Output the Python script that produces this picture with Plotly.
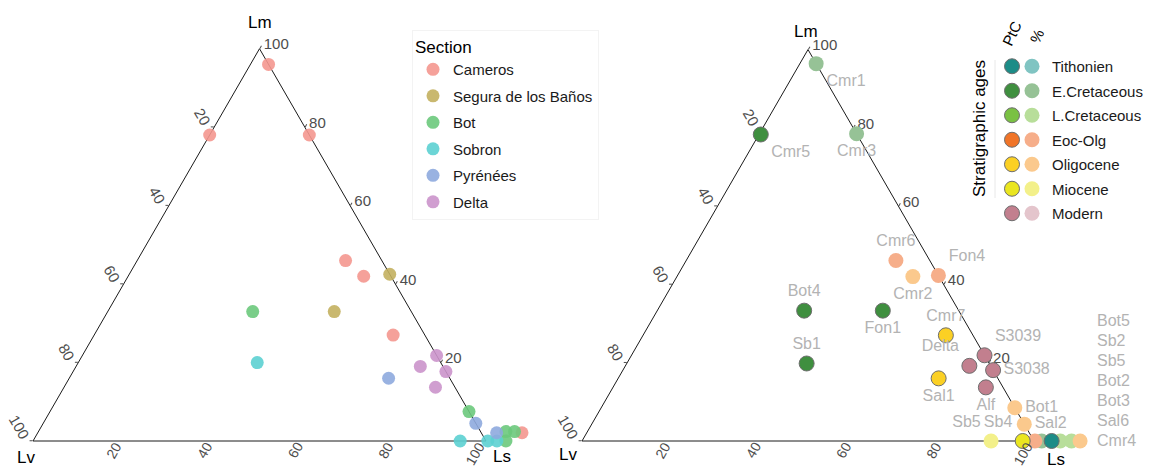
import math
import plotly.graph_objects as go

FONT = "Liberation Sans, Arial, sans-serif"
FIG_W, FIG_H = 1151, 468

# ---------------- Left panel: samples by section (Lm, Lv, Ls in %) ----------------
sections = ["Cameros", "Segura de los Baños", "Bot", "Sobron", "Pyrénées", "Delta"]
section_colors = ["#F4978F", "#C3B05F", "#6CC97C", "#5CD0D2", "#8EAADE", "#CB94CB"]

left_section = ["Cameros", "Cameros", "Cameros", "Cameros", "Cameros", "Cameros", "Cameros",
                "Segura de los Baños", "Segura de los Baños",
                "Bot", "Bot", "Bot", "Bot", "Bot",
                "Sobron", "Sobron", "Sobron", "Sobron",
                "Pyrénées", "Pyrénées", "Pyrénées",
                "Delta", "Delta", "Delta", "Delta"]
left_lm = [96, 78, 78, 46, 42, 27, 2.1,
           42.5, 33,
           33, 7.5, 2.4, 2.4, 0,
           20, 0, 0, 0,
           16, 4.5, 2.1,
           21.8, 19, 17.7, 13.7]
left_lv = [0, 22, 0, 8, 6, 7, -9,
           0, 17,
           35, 0, -5.6, -7.5, -4.4,
           40.5, 5.7, -0.4, -2.4,
           13.5, 0, -3.4,
           0, 5, 0, 4.3]
left_ls = [4, 0, 22, 46, 52, 66, 106.9,
           57.5, 50,
           32, 92.5, 103.2, 105.1, 104.4,
           39.5, 94.3, 100.4, 102.4,
           70.5, 95.5, 101.3,
           78.2, 76, 82.3, 82]

# ---------------- Right panel: samples by stratigraphic age ----------------
ages = ["Tithonien", "E.Cretaceous", "L.Cretaceous", "Eoc-Olg", "Oligocene", "Miocene", "Modern"]
ptc_colors = ["#1C8C87", "#3F8F3F", "#7AC143", "#F07428", "#FBD024", "#EAE620", "#C27F8E"]
pct_colors = ["#80C4C2", "#96C296", "#B8DE9A", "#F6AE8A", "#FBC98D", "#F3F08A", "#E4C5CC"]

right_sample = ["Cmr1", "Cmr3", "Cmr6", "Fon4", "Cmr2", "Bot1", "Sal2", "Sb5",
                "Cmr4", "Bot5", "Bot2", "Bot3", "Sal6",
                "Cmr5", "Bot4", "Fon1", "Sb1", "Cmr7", "Sal1", "Sb4",
                "S3039", "Delta", "S3038", "Alf", "Sb2"]
right_age = ["E.Cretaceous", "E.Cretaceous", "Eoc-Olg", "Eoc-Olg", "Oligocene", "Oligocene", "Oligocene", "Miocene",
             "Eoc-Olg", "E.Cretaceous", "L.Cretaceous", "L.Cretaceous", "Oligocene",
             "E.Cretaceous", "E.Cretaceous", "E.Cretaceous", "E.Cretaceous", "Oligocene", "Oligocene", "Miocene",
             "Modern", "Modern", "Modern", "Modern", "Tithonien"]
right_kind = ["%", "%", "%", "%", "%", "%", "%", "%",
              "%", "%", "%", "%", "%",
              "PtC", "PtC", "PtC", "PtC", "PtC", "PtC", "PtC",
              "PtC", "PtC", "PtC", "PtC", "PtC"]
right_lm = [96.4, 78.5, 46.1, 42.3, 42.0, 8.5, 4.3, 0,
            0, 0, 0, 0, 0,
            78.3, 33.3, 33.3, 19.8, 27, 16, 0,
            21.9, 19.2, 18.1, 13.7, 0]
right_lv = [0, 0, 7.5, 0, 5.8, 0, 0, 9.5,
            -0.2, -1.7, -5.8, -8.3, -10.2,
            21.3, 34.2, 16.8, 40.4, 6, 13.1, 2.5,
            0, 4.7, 0, 3.8, -3.9]
right_ls = [3.6, 21.5, 46.4, 57.7, 52.2, 91.5, 95.7, 90.5,
            100.2, 101.7, 105.8, 108.3, 110.2,
            0.4, 32.5, 49.9, 39.8, 67, 70.9, 97.5,
            78.1, 76.1, 81.9, 82.5, 103.9]
# labels of the points beyond the Ls vertex, stacked in a column
stacked_labels = ["Bot5", "Sb2", "Sb5", "Bot2", "Bot3", "Sal6", "Cmr4"]

# tick values shown on each edge
edge_ticks = [20, 40, 60, 80, 100]

# label placement relative to each marker (style)
label_pos = {"Cmr1": "bottom right", "Cmr3": "bottom center", "Cmr6": "top center", "Fon4": "top right",
             "Cmr2": "bottom center", "Bot1": "middle right", "Sal2": "middle right", "Sb5": "top left",
             "Cmr5": "bottom right", "Bot4": "top center", "Fon1": "bottom center", "Sb1": "top center",
             "Cmr7": "top center", "Sal1": "bottom center", "Sb4": "top left", "S3039": "top right",
             "Delta": "top left", "S3038": "middle right", "Alf": "bottom center"}

# ---------------- geometry ----------------
SQ = math.sqrt(3) / 2
BASE_Y = 441
PANELS = {"left": (33, 486), "right": (582, 1034)}
LV_PAD = 11  # extra room for compositions with slightly negative Lv (points beyond the Ls vertex)


def axis_domain(xl, xr):
    s = xr - xl
    h = s * SQ
    return dict(x=[xl / FIG_W, xr / FIG_W], y=[(FIG_H - BASE_Y) / FIG_H, (FIG_H - BASE_Y + h) / FIG_H])


def data_domain(xl, xr):
    # larger triangle sharing the Lv vertex; its inner 0-100 triangle coincides with the framed triangle
    f = (100 + LV_PAD) / 100
    s = (xr - xl) * f
    h = s * SQ
    return dict(x=[xl / FIG_W, (xl + s) / FIG_W], y=[(FIG_H - BASE_Y) / FIG_H, (FIG_H - BASE_Y + h) / FIG_H])


fig = go.Figure()

# placeholder traces so the framed (axis) ternaries exist
for sp in ["ternary", "ternary2"]:
    fig.add_trace(go.Scatterternary(a=[None], b=[None], c=[None], mode="markers", subplot=sp,
                                    showlegend=False, hoverinfo="skip"))

# left panel data
for sec, col in zip(sections, section_colors):
    idx = [i for i, s in enumerate(left_section) if s == sec]
    fig.add_trace(go.Scatterternary(
        a=[left_lm[i] for i in idx], b=[left_lv[i] + LV_PAD for i in idx], c=[left_ls[i] for i in idx],
        mode="markers", name=sec, subplot="ternary3", legend="legend", legendgroup=sec,
        cliponaxis=False,
        marker=dict(size=13, color=col, opacity=0.9, line=dict(width=0)),
        customdata=[left_lv[i] for i in idx],
        hovertemplate="Lm %{a}<br>Lv %{customdata}<br>Ls %{c}<extra>" + sec + "</extra>",
    ))

# right panel data: % first (underneath), then PtC
for kind, colors, leg in [("%", pct_colors, "legend2"), ("PtC", ptc_colors, "legend3")]:
    for age, col in zip(ages, colors):
        idx = [i for i in range(len(right_sample)) if right_age[i] == age and right_kind[i] == kind]
        a = [right_lm[i] for i in idx] or [None]
        b = [right_lv[i] + LV_PAD for i in idx] or [None]
        c = [right_ls[i] for i in idx] or [None]
        txt = [right_sample[i] if right_sample[i] in label_pos else "" for i in idx] or [""]
        pos = [label_pos.get(right_sample[i], "middle center") for i in idx] or ["middle center"]
        line = dict(width=1, color="#6E6E6E") if kind == "PtC" else dict(width=0)
        fig.add_trace(go.Scatterternary(
            a=a, b=b, c=c, text=txt, textposition=pos,
            mode="markers+text", name=age if kind == "%" else " ", subplot="ternary4", legend=leg,
            legendgroup=kind + age, cliponaxis=False,
            textfont=dict(family=FONT, size=16, color="#B3B3B3"),
            marker=dict(size=15, color=col, line=line),
            hovertext=[f"{right_sample[i]} ({age}, {kind})" for i in idx] or [""],
            hoverinfo="text",
        ))


def frame_axes(domain):
    common = dict(showgrid=False, linecolor="#1a1a1a", linewidth=1, ticks="outside", ticklen=3,
                  tickcolor="#4d4d4d", tickfont=dict(family=FONT, size=15, color="#4d4d4d"),
                  tickmode="array", tickvals=[100 - t for t in edge_ticks],
                  ticktext=[str(t) for t in edge_ticks], title=dict(text=""), min=0)
    # bottom-edge (Ls) labels are drawn as annotations below so they sit close to the edge
    bax = dict(common, ticks="", showticklabels=False)
    return dict(sum=100, bgcolor="white", domain=domain,
                aaxis=dict(common, tickangle=60),
                baxis=bax,
                caxis=dict(common, tickangle=0))


def hidden_axes(domain):
    common = dict(showgrid=False, showline=False, showticklabels=False, ticks="", title=dict(text=""), min=0)
    return dict(sum=100 + LV_PAD, bgcolor="rgba(0,0,0,0)", domain=domain,
                aaxis=dict(common), baxis=dict(common), caxis=dict(common))


def px(x, y):
    return x / FIG_W, 1 - y / FIG_H


annotations = []
# bottom edge tick labels (Ls %)
for xl, xr in PANELS.values():
    for t in edge_ticks:
        xx, yy = px(xl + (xr - xl) * t / 100 + 3, BASE_Y - 3)
        annotations.append(dict(text=str(t), x=xx, y=yy, xref="paper", yref="paper", showarrow=False,
                                xanchor="right", yanchor="top", textangle=-60, borderpad=0,
                                font=dict(family=FONT, size=14, color="#4d4d4d")))
for txt, (x, y) in [("Lm", (260, 22)), ("Lv", (26, 457)), ("Ls", (502, 456)),
                    ("Lm", (806, 32)), ("Lv", (568, 454)), ("Ls", (1056, 459))]:
    xx, yy = px(x, y)
    annotations.append(dict(text=txt, x=xx, y=yy, xref="paper", yref="paper", showarrow=False,
                            xanchor="center", yanchor="middle",
                            font=dict(family=FONT, size=17, color="black")))
for k, lab in enumerate(stacked_labels):
    xx, yy = px(1095, 320 + 20 * k)
    annotations.append(dict(text=lab, x=xx, y=yy, xref="paper", yref="paper", showarrow=False,
                            xanchor="left", yanchor="middle",
                            font=dict(family=FONT, size=16, color="#B3B3B3")))
for txt, (x, y), ang, size in [("Stratigraphic ages", (979, 129), -90, 17),
                               ("PtC", (1012, 34), -65, 15), ("%", (1037, 37), -65, 15)]:
    xx, yy = px(x, y)
    annotations.append(dict(text=txt, x=xx, y=yy, xref="paper", yref="paper", showarrow=False,
                            xanchor="center", yanchor="middle", textangle=ang,
                            font=dict(family=FONT, size=size, color="black")))

fig.update_layout(
    width=FIG_W, height=FIG_H, autosize=False,
    margin=dict(l=0, r=0, t=0, b=0),
    paper_bgcolor="white", plot_bgcolor="white",
    font=dict(family=FONT),
    ternary=frame_axes(axis_domain(*PANELS["left"])),
    ternary2=frame_axes(axis_domain(*PANELS["right"])),
    ternary3=hidden_axes(data_domain(*PANELS["left"])),
    ternary4=hidden_axes(data_domain(*PANELS["right"])),
    legend=dict(x=412 / FIG_W, y=1 - 30 / FIG_H, xanchor="left", yanchor="top",
                title=dict(text="Section", font=dict(family=FONT, size=17, color="black")),
                font=dict(family=FONT, size=15, color="#1a1a1a"),
                tracegroupgap=4, bgcolor="rgba(255,255,255,0.9)", bordercolor="#F3F3F3", borderwidth=1),
    legend2=dict(x=1012 / FIG_W, y=1 - 50 / FIG_H, xanchor="left", yanchor="top",
                 font=dict(family=FONT, size=15, color="#1a1a1a"),
                 tracegroupgap=2, bgcolor="rgba(0,0,0,0)", borderwidth=0),
    legend3=dict(x=992 / FIG_W, y=1 - 50 / FIG_H, xanchor="left", yanchor="top",
                 font=dict(family=FONT, size=15, color="#1a1a1a"),
                 tracegroupgap=2, bgcolor="rgba(0,0,0,0)", borderwidth=0),
    annotations=annotations,
    shapes=[dict(type="line", xref="paper", yref="paper",
                 x0=995 / FIG_W, x1=995 / FIG_W, y0=1 - 60 / FIG_H, y1=1 - 198 / FIG_H,
                 line=dict(color="#E8E8E8", width=1))],
    showlegend=True,
)

fig.write_html(
    "out.html",
    config={"displayModeBar": False},
    post_script=("document.documentElement.style.overflow='hidden';"
                 "document.body.style.margin='0';document.body.style.overflow='hidden';"),
)
